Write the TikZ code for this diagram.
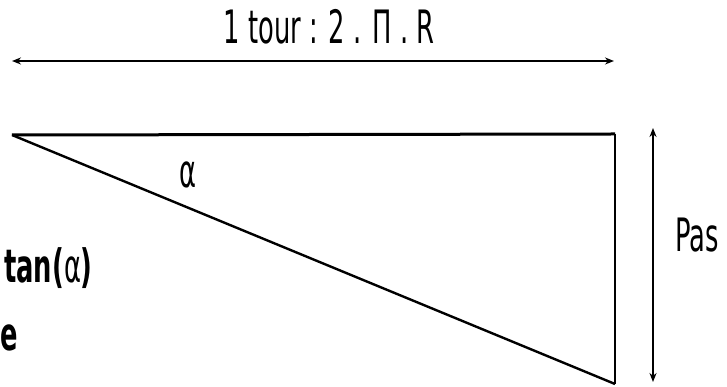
\documentclass[tikz,border=0pt]{standalone}
\usepackage{fontspec}
\setmainfont{DejaVu Sans}[FakeStretch=0.56]
\usetikzlibrary{arrows.meta}

\newcommand{\grostexte}{\fontsize{46}{50}\selectfont}

\begin{document}
\begin{tikzpicture}[x=1pt, y=1pt, >={Stealth[length=9pt,width=7pt]}]
  \useasboundingbox (0,0) rectangle (727,387);
  % Unrolled helix: one turn along the top, the pitch on the right
  \coordinate (hautG) at (12,252);
  \coordinate (hautD) at (615,253);
  \coordinate (basD) at (615,3);
  \draw[line width=3pt] (hautG) -- (hautD);
  \draw[line width=1.8pt] (hautD) -- (basD);
  \draw[line width=2.4pt] (hautG) -- (basD);
  \node[font=\grostexte] (lblAlpha) at (188,212) {α};
  % Length of one turn
  \coordinate (tourG) at (12,326);
  \coordinate (tourD) at (614,326);
  \draw[<->, line width=1.6pt] (tourG) -- (tourD);
  \node[font=\grostexte] (lblTour) at (329,360) {1 tour : 2 . Π . R};
  % Pitch
  \coordinate (pasH) at (653,259);
  \coordinate (pasB) at (653,5);
  \draw[<->, line width=1.6pt] (pasH) -- (pasB);
  \node[font=\grostexte] (lblPas) at (697,152) {Pas};
  % Pieces of the text on the left
  \node[font=\grostexte\bfseries, anchor=west, inner sep=0pt] (lblTan) at (4,119) {tan({\mdseries α})};
  \node[font=\grostexte\bfseries, anchor=west, inner sep=0pt] (lblE) at (0,49) {e};
\end{tikzpicture}
\end{document}
